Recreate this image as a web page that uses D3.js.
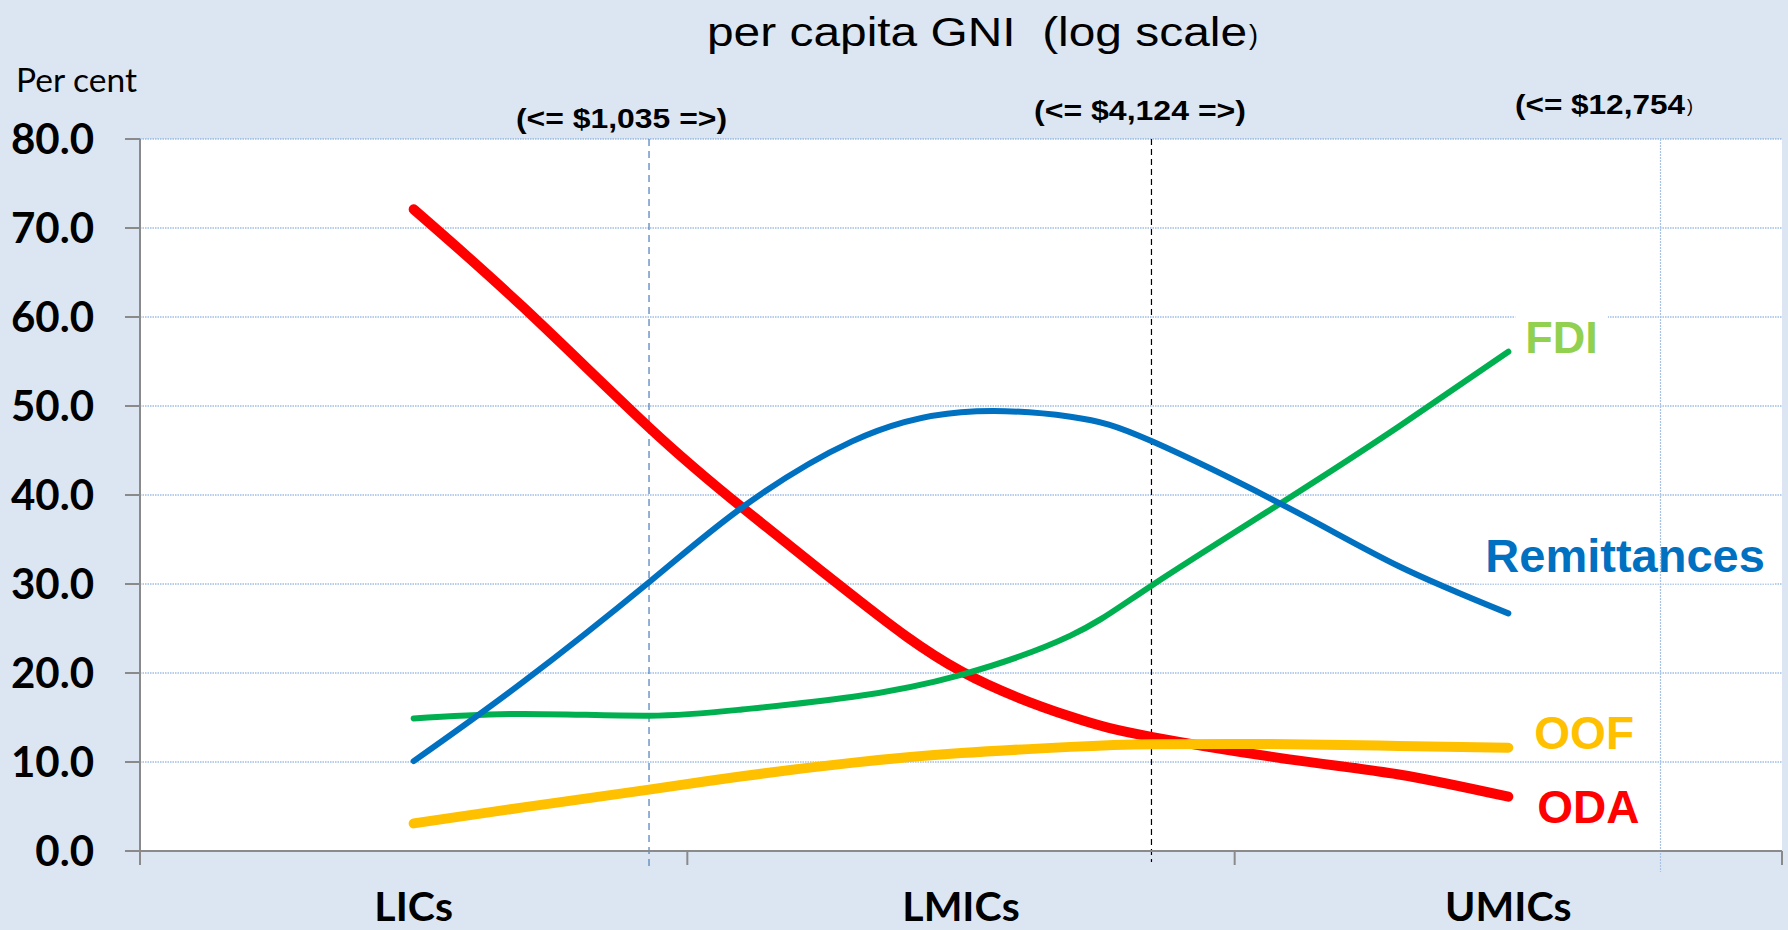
<!DOCTYPE html>
<html>
<head>
<meta charset="utf-8">
<script src="https://cdn.jsdelivr.net/npm/d3@7"></script>
<style>
  html, body { margin: 0; padding: 0; background: #DCE6F2; }
  svg { display: block; }
  text { white-space: pre; }
</style>
</head>
<body>
<svg id="chart" width="1788" height="930"></svg>
<script>
// ---------------- data ----------------
const categories = ["LICs", "LMICs", "UMICs"];
const yTickValues = [0, 10, 20, 30, 40, 50, 60, 70, 80];
// positions along the income axis, in category units (0 = left edge, 3 = right edge)
const xPos        = [0.5, 0.7, 0.93, 1.1, 1.3, 1.5, 1.7, 1.85, 2.1, 2.3, 2.5];
const oda         = [72.1, 61.1, 47.6, 38.6, 28.8, 20.2, 15.1, 12.8, 10.3, 8.6, 6.1];
const remittances = [10.1, 19.0, 30.2, 38.6, 46.0, 49.3, 48.8, 46.0, 38.5, 32.0, 26.7];
const fdi         = [14.9, 15.4, 15.2, 15.9, 17.3, 19.8, 24.2, 29.9, 39.7, 47.7, 56.1];
const oof         = [3.1, 4.9, 6.9, 8.4, 9.9, 11.0, 11.7, 12.0, 12.0, 11.8, 11.6];
const seriesNames  = ["ODA", "FDI", "OOF", "Remittances"];
const thresholdPos    = [0.93, 1.848, 2.778];
const thresholdLabels = ["(<= $1,035 =>)", "(<= $4,124 =>)", "(<= $12,754"];
const titleText = "per capita GNI  (log scale";
const yAxisTitle = "Per cent";

// ---------------- layout ----------------
const svg = d3.select("#chart");
const W = 1788, H = 930;
const plot = { left: 140, right: 1782, top: 139, bottom: 851 };

const x = d3.scaleLinear().domain([0, 3]).range([plot.left, plot.right]);
const y = d3.scaleLinear().domain([0, 80]).range([plot.bottom, plot.top]);

svg.append("rect").attr("width", W).attr("height", H).attr("fill", "#DCE6F2");
svg.append("rect")
  .attr("x", plot.left).attr("y", plot.top)
  .attr("width", plot.right - plot.left).attr("height", plot.bottom - plot.top)
  .attr("fill", "#ffffff");

// gridlines
svg.append("g").selectAll("line")
  .data(yTickValues.filter(v => v > 0))
  .join("line")
  .attr("x1", plot.left).attr("x2", plot.right)
  .attr("y1", d => y(d)).attr("y2", d => y(d))
  .attr("stroke", "#6F9BD8").attr("stroke-width", 1)
  .attr("stroke-dasharray", "1.5,1");

// ---------------- series ----------------
const series = {
  ODA:         { values: oda,         color: "#FF0000", width: 10, labelColor: "#FF0000", dx: 29,  labelV: 3.2,  size: 46 },
  FDI:         { values: fdi,         color: "#00B050", width: 6,  labelColor: "#92D050", dx: 17,  labelV: 56.0, size: 45 },
  OOF:         { values: oof,         color: "#FFC000", width: 10, labelColor: "#FFC000", dx: 26,  labelV: 11.5, size: 46 },
  Remittances: { values: remittances, color: "#0070C0", width: 6,  labelColor: "#0070C0", dx: -23, labelV: 31.4, size: 47 }
};

// label backgrounds (hide gridlines behind labels)
const labelLayer = svg.append("g");
seriesNames.forEach(name => {
  const s = series[name];
  const t = labelLayer.append("text")
    .attr("x", x(xPos[xPos.length - 1]) + s.dx)
    .attr("y", y(s.labelV))
    .attr("font-family", "'Liberation Sans', Arial, sans-serif")
    .attr("font-weight", "bold")
    .attr("font-size", s.size)
    .attr("fill", s.labelColor)
    .text(name);
  const bb = t.node().getBBox();
  labelLayer.insert("rect", "text")
    .attr("x", bb.x - 10).attr("y", bb.y - 2)
    .attr("width", bb.width + 20).attr("height", bb.height + 4)
    .attr("fill", "#ffffff");
});

// threshold vertical lines
const thrStyles = [
  { stroke: "#4A7EBB", dash: "7,5", bottom: 868, width: 1.2 },
  { stroke: "#000000", dash: "6,4", bottom: 862, width: 1.2 },
  { stroke: "#A8C2E6", dash: "2,1", bottom: 872, width: 1.2 }
];
svg.append("g").selectAll("line")
  .data(thresholdPos)
  .join("line")
  .attr("x1", d => x(d)).attr("x2", d => x(d))
  .attr("y1", plot.top).attr("y2", (d, i) => thrStyles[i].bottom)
  .attr("stroke", (d, i) => thrStyles[i].stroke)
  .attr("stroke-width", (d, i) => thrStyles[i].width)
  .attr("stroke-dasharray", (d, i) => thrStyles[i].dash);

const line = d3.line()
  .x((d, i) => x(xPos[i]))
  .y(d => y(d))
  .curve(d3.curveNatural);

["ODA", "FDI", "OOF", "Remittances"].forEach(name => {
  const s = series[name];
  svg.append("path")
    .attr("d", line(s.values))
    .attr("fill", "none")
    .attr("stroke", s.color)
    .attr("stroke-width", s.width)
    .attr("stroke-linecap", "round")
    .attr("stroke-linejoin", "round");
});

// labels above lines; thin threshold line passes over the Remittances label
labelLayer.raise();
svg.append("line")
  .attr("x1", x(thresholdPos[2])).attr("x2", x(thresholdPos[2]))
  .attr("y1", 520).attr("y2", 590)
  .attr("stroke", "#A8C2E6").attr("stroke-width", 1.2).attr("stroke-dasharray", "2,1");

// ---------------- axes ----------------
const axisColor = "#8A8A8A";
svg.append("line")
  .attr("x1", plot.left).attr("x2", plot.left)
  .attr("y1", plot.top).attr("y2", plot.bottom + 14)
  .attr("stroke", axisColor).attr("stroke-width", 2);
svg.append("g").selectAll("line")
  .data(yTickValues)
  .join("line")
  .attr("x1", plot.left - 15).attr("x2", plot.left)
  .attr("y1", d => y(d)).attr("y2", d => y(d))
  .attr("stroke", axisColor).attr("stroke-width", 2);
svg.append("g").selectAll("text")
  .data(yTickValues)
  .join("text")
  .attr("x", 94)
  .attr("y", d => y(d))
  .attr("dy", "0.36em")
  .attr("text-anchor", "end")
  .attr("font-family", "Lato, 'Open Sans', sans-serif")
  .attr("font-weight", "bold")
  .attr("font-size", 42)
  .attr("fill", "#000")
  .text(d => d3.format(".1f")(d));

svg.append("line")
  .attr("x1", plot.left).attr("x2", plot.right)
  .attr("y1", plot.bottom).attr("y2", plot.bottom)
  .attr("stroke", axisColor).attr("stroke-width", 2);
svg.append("g").selectAll("line")
  .data(d3.range(categories.length + 1))
  .join("line")
  .attr("x1", d => x(d)).attr("x2", d => x(d))
  .attr("y1", plot.bottom).attr("y2", plot.bottom + 14)
  .attr("stroke", axisColor).attr("stroke-width", 2);
svg.append("g").selectAll("text")
  .data(categories)
  .join("text")
  .attr("x", (d, i) => x(i + 0.5))
  .attr("y", 921)
  .attr("text-anchor", "middle")
  .attr("font-family", "Lato, 'Open Sans', sans-serif")
  .attr("font-weight", "bold")
  .attr("font-size", 41)
  .attr("fill", "#000")
  .text(d => d);

// ---------------- titles ----------------
svg.append("text")
  .attr("x", 707).attr("y", 46)
  .attr("font-family", "'Liberation Sans', Arial, sans-serif")
  .attr("font-size", 40)
  .attr("fill", "#000")
  .attr("textLength", 540).attr("lengthAdjust", "spacingAndGlyphs")
  .text(titleText);
svg.append("text")
  .attr("x", 1249).attr("y", 44)
  .attr("font-family", "'Liberation Sans', Arial, sans-serif")
  .attr("font-size", 27)
  .attr("fill", "#000")
  .text(")");

svg.append("text")
  .attr("x", 16).attr("y", 92)
  .attr("font-family", "Lato, 'Open Sans', sans-serif")
  .attr("font-size", 32)
  .attr("fill", "#000")
  .attr("textLength", 121).attr("lengthAdjust", "spacingAndGlyphs")
  .text(yAxisTitle);

// threshold labels
const thrLabelX = [516, 1034, 1515];
const thrLabelW = [211, 212, 170];
const thrLabelY = [127.5, 120, 114];
thresholdLabels.forEach((t, i) => {
  svg.append("text")
    .attr("x", thrLabelX[i]).attr("y", thrLabelY[i])
    .attr("font-family", "'Liberation Sans', Arial, sans-serif")
    .attr("font-weight", "bold")
    .attr("font-size", 27)
    .attr("fill", "#000")
    .attr("textLength", thrLabelW[i]).attr("lengthAdjust", "spacingAndGlyphs")
    .text(t);
});
svg.append("text")
  .attr("x", 1687).attr("y", 112)
  .attr("font-family", "'Liberation Sans', Arial, sans-serif")
  .attr("font-size", 18)
  .attr("fill", "#000")
  .text(")");
</script>
</body>
</html>
